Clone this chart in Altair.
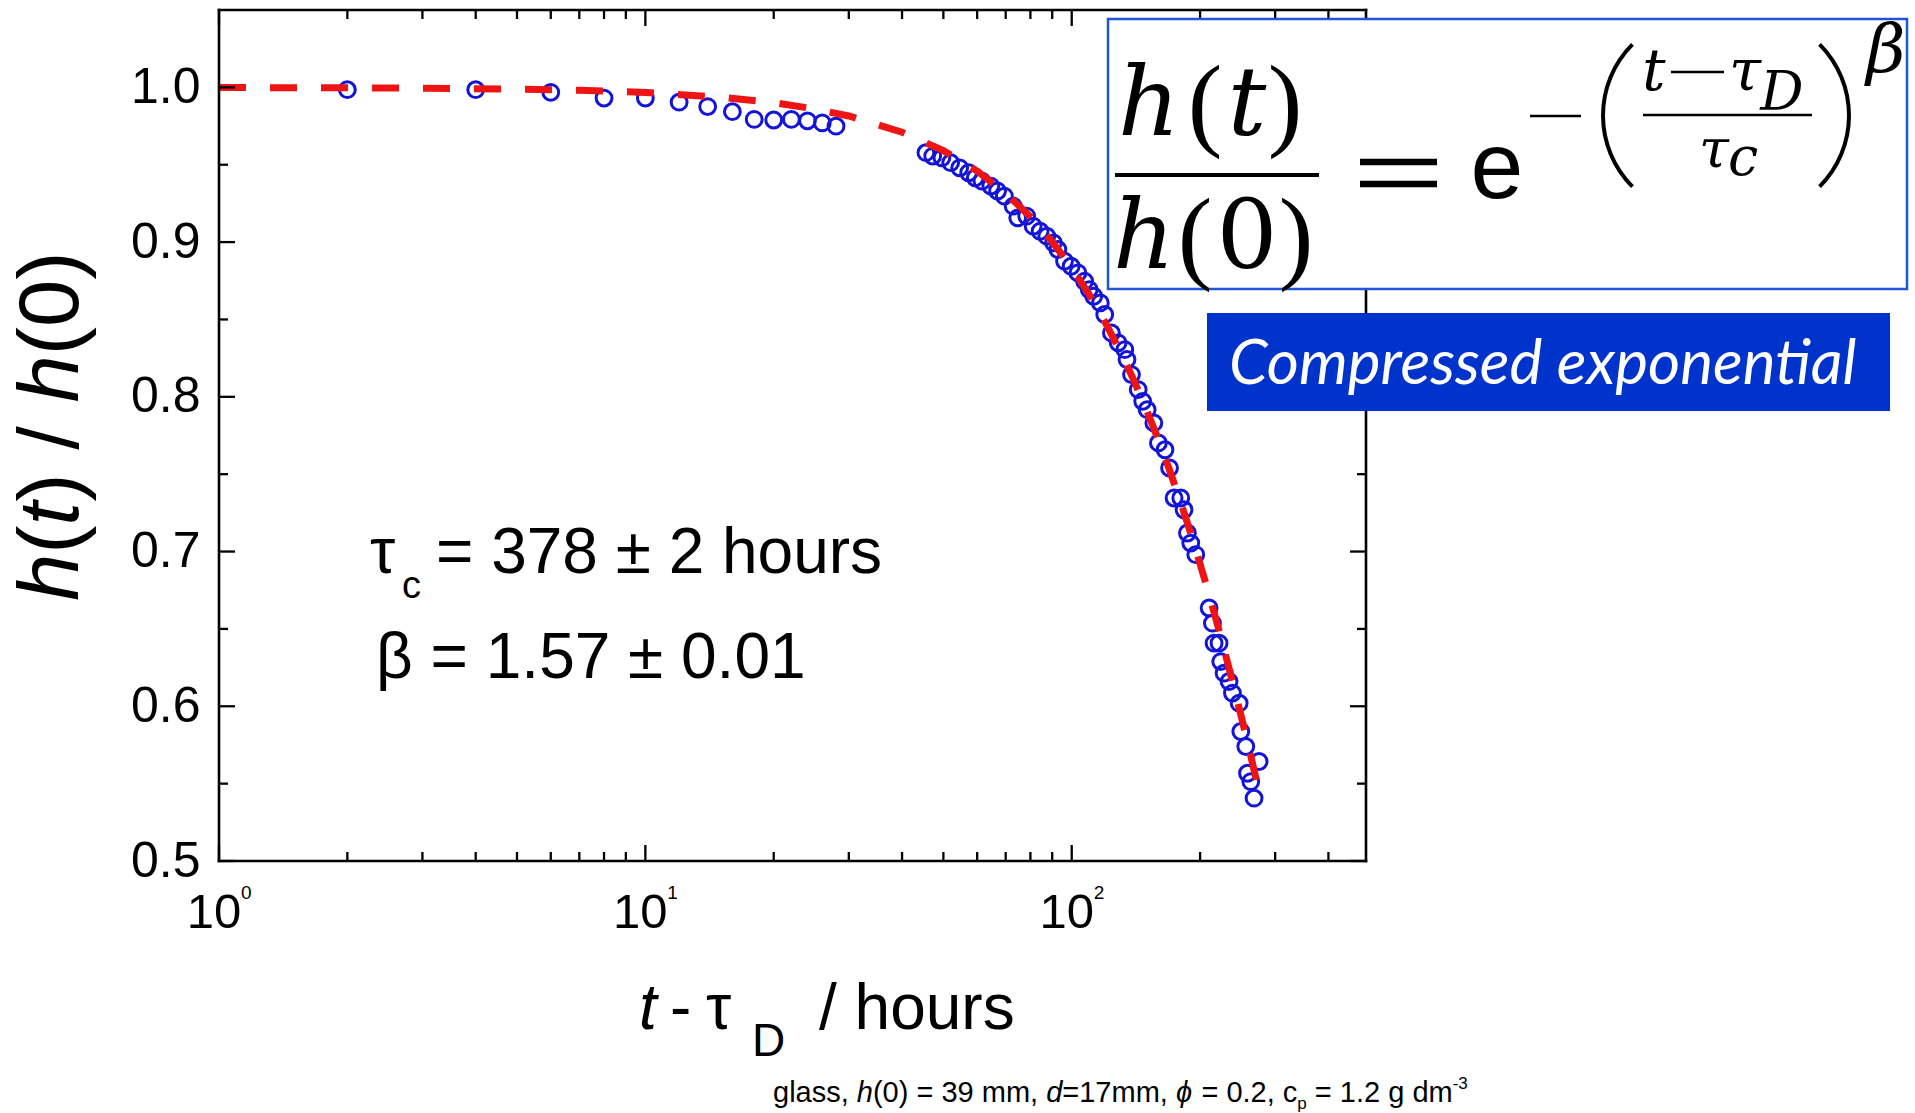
import math
import altair as alt
import pandas as pd

# ---------------- data ----------------
t_early = [2, 4, 6, 8, 10, 12, 14, 16, 18, 20, 22, 24, 26, 28]
h_early = [0.9985, 0.9985, 0.9968, 0.9931, 0.9931, 0.9904, 0.9876, 0.9843,
           0.9793, 0.9789, 0.9793, 0.9784, 0.977, 0.9749]

t_late = [45.5, 47.2, 49.6, 52.0, 54.6, 57.3, 59.4, 61.6, 64.6, 67.0, 69.5, 72.9,
          74.7, 78.4, 81.2, 84.3, 87.4, 90.6, 92.8, 96.2, 99.7, 103.4, 107.2, 109.9,
          112.6, 116.7, 119.5, 123.9, 128.5, 133.2, 134.8, 138.1, 143.2, 146.7, 150.3,
          155.8, 159.7, 165.5, 169.6,
          173.8, 180.2, 183.4, 186.8, 190.2, 195.4, 210.0, 213.8, 215.7, 221.6, 223.6,
          227.7, 233.9, 238.2, 247.0, 249.2, 256.0, 275.1, 258.4, 263.0, 267.7]
h_late = [0.9578, 0.9556, 0.9545, 0.9513, 0.948, 0.9448, 0.9416, 0.9394, 0.9362, 0.933,
          0.9297, 0.9232, 0.9157, 0.9168, 0.9103, 0.907, 0.9038, 0.8995, 0.8952, 0.8877,
          0.8844, 0.8801, 0.8747, 0.8693, 0.865, 0.8607, 0.8532, 0.8413, 0.8349, 0.8305,
          0.8241, 0.8144, 0.8047, 0.7971, 0.7917, 0.7831, 0.7702, 0.7658, 0.754,
          0.7346, 0.7346, 0.727, 0.712, 0.7055, 0.698, 0.6635, 0.6537, 0.6408, 0.6408,
          0.6289, 0.6214, 0.616, 0.6085, 0.602, 0.5837, 0.574, 0.5643, 0.5567, 0.5513,
          0.5406]

fit_t = [1, 2, 3, 5, 7, 10, 15, 20, 25, 30, 40, 50, 60, 70, 80, 90, 100, 110, 120,
         130, 140, 150, 160, 170, 180, 190, 200, 210, 220, 230, 240, 250, 260, 275]
fit_h = [0.9999, 0.9997, 0.9995, 0.9989, 0.9981, 0.9967, 0.9937, 0.9901, 0.986, 0.9815,
         0.971, 0.9591, 0.9459, 0.9316, 0.9164, 0.9002, 0.8834, 0.8659, 0.8478, 0.8293,
         0.8104, 0.7911, 0.7716, 0.7519, 0.732, 0.7121, 0.692, 0.6721, 0.6522, 0.6323,
         0.6126, 0.593, 0.5737, 0.545]

x_major_ticks = [1, 10, 100]
x_minor_ticks = [2, 3, 4, 5, 6, 7, 8, 9, 20, 30, 40, 50, 60, 70, 80, 90, 200, 300, 400]
y_major_ticks = [0.5, 0.6, 0.7, 0.8, 0.9, 1.0]
y_minor_ticks = [0.55, 0.65, 0.75, 0.85, 0.95]
x_tick_base = ["10", "10", "10"]
x_tick_exp = ["0", "1", "2"]

# ---------------- layout ----------------
W, H = 1147, 851
SANS = "Liberation Sans"
SERIF = "DejaVu Serif"
TSERIF = "Liberation Serif"
BLACK = "black"

xs = alt.Scale(type="log", domain=[1, 490], nice=False)
ys = alt.Scale(domain=[0.5, 1.05], nice=False, zero=False)
yaxis = alt.Axis(values=y_major_ticks, format=".1f", title=None, domain=False,
                 ticks=False, tickSize=0, grid=False, labelFont=SANS,
                 labelFontSize=50, labelColor=BLACK, labelPadding=19)


def X():
    return alt.X("t:Q", scale=xs, axis=None)


def Y():
    return alt.Y("h:Q", scale=ys, axis=yaxis)


one = pd.DataFrame({"k": [0]})

# Arial / Liberation Sans advance widths (1/1000 em) for layout of mixed-style text
AW = {" ": 278, ",": 278, "(": 333, ")": 333, "=": 584, ".": 278, "-": 333, "/": 278,
      "a": 556, "c": 500, "d": 556, "g": 556, "h": 556, "l": 222, "m": 833, "p": 556,
      "s": 500, "t": 278, "ϕ": 600}


def tw(s, size):
    return sum(AW.get(ch, 556) for ch in s) * size / 1000.0


def rule(x1, y1, x2, y2, sw=2.5, color=BLACK, cap="butt"):
    return alt.Chart(one).mark_rule(color=color, strokeWidth=sw, strokeCap=cap).encode(
        x=alt.value(x1), x2=alt.value(x2), y=alt.value(y1), y2=alt.value(y2))


def text(s, x, y, size, font=SANS, style="normal", align="left", angle=0,
         color=BLACK, weight="normal"):
    # leading blanks are dropped by the renderer, so turn them into an offset
    lead = len(s) - len(s.lstrip(" "))
    if lead:
        shift = tw(" " * lead, size)
        if angle == 270:
            y -= shift
        else:
            x += shift
        s = s.lstrip(" ")
    kw = dict(text=s, fontSize=size, font=font, fontStyle=style,
              align=align, baseline="alphabetic", color=color, fontWeight=weight)
    if angle:
        kw["angle"] = angle
    return alt.Chart(one).mark_text(**kw).encode(x=alt.value(x), y=alt.value(y))


def paren(side, ink_x, y_top, y_bot, bulge, thick):
    # a thin circular-arc delimiter
    c = y_bot - y_top
    R = (c * c / 4 + bulge * bulge) / (2 * bulge)
    half = math.asin((c / 2) / R)
    cy = (y_top + y_bot) / 2
    if side == "left":
        cx, mid = ink_x + R, 1.5 * math.pi
    else:
        cx, mid = ink_x - R, 0.5 * math.pi
    return alt.Chart(one).mark_arc(color=BLACK).encode(
        x=alt.value(cx), y=alt.value(cy),
        theta=alt.value(mid - half), theta2=alt.value(mid + half),
        radius=alt.value(R), radius2=alt.value(R - thick))


layers = []

# data
pts = pd.DataFrame({"t": t_early + t_late, "h": h_early + h_late})
fit = pd.DataFrame({"t": fit_t, "h": fit_h})

layers.append(alt.Chart(pts).mark_point(shape="circle", filled=False, size=250,
                                          strokeWidth=3, color="#1414d8", opacity=1)
              .encode(x=X(), y=Y()))
layers.append(alt.Chart(fit).mark_line(color="#ee1414", strokeWidth=7,
                                         strokeDash=[27, 24], strokeCap="butt")
              .encode(x=X(), y=Y()))

# ticks (inward, on all four sides)
xmaj = pd.DataFrame({"t": x_major_ticks})
xmin = pd.DataFrame({"t": x_minor_ticks})
ymaj = pd.DataFrame({"h": y_major_ticks})
ymin = pd.DataFrame({"h": y_minor_ticks})
for df, ln in ((xmaj, 16), (xmin, 9)):
    layers.append(alt.Chart(df).mark_rule(color=BLACK, strokeWidth=2.3)
                  .encode(x=X(), y=alt.value(H), y2=alt.value(H - ln)))
    layers.append(alt.Chart(df).mark_rule(color=BLACK, strokeWidth=2.3)
                  .encode(x=X(), y=alt.value(0), y2=alt.value(ln)))
for df, ln in ((ymaj, 16), (ymin, 9)):
    layers.append(alt.Chart(df).mark_rule(color=BLACK, strokeWidth=2.3)
                  .encode(y=Y(), x=alt.value(0), x2=alt.value(ln)))
    layers.append(alt.Chart(df).mark_rule(color=BLACK, strokeWidth=2.3)
                  .encode(y=Y(), x=alt.value(W), x2=alt.value(W - ln)))

# frame
layers += [rule(0, 0, W, 0, 2.6, cap="square"), rule(0, H, W, H, 2.6, cap="square"),
           rule(0, 0, 0, H, 2.6, cap="square"), rule(W, 0, W, H, 2.6, cap="square")]

# x tick labels 10^n
xl = pd.DataFrame({"t": x_major_ticks, "b": x_tick_base, "e": x_tick_exp})
layers.append(alt.Chart(xl).mark_text(fontSize=49, font=SANS, align="center",
                                        baseline="alphabetic", dx=-5, color=BLACK)
              .encode(x=X(), y=alt.value(918), text="b:N"))
layers.append(alt.Chart(xl).mark_text(fontSize=19, font=SANS, align="left",
                                        baseline="alphabetic", dx=22, color=BLACK)
              .encode(x=X(), y=alt.value(889), text="e:N"))

# x axis title: t - tau_D / hours
layers += [text("t", 420, 1019, 64, style="italic"),
           text("-", 451, 1019, 64),
           text("τ", 487, 1019, 64),
           text("D", 533, 1046, 46),
           text("/ hours", 600, 1019, 64)]

# y axis title: h(t) / h(0), rotated
ysegs = [("h", "italic"), ("(", "normal"), ("t", "italic"), (")", "normal"),
         (" / ", "normal"), ("h", "italic"), ("(0)", "normal")]
off = 0.0
for s, st in ysegs:
    layers.append(text(s, -141, 591 - off, 85, style=st, angle=270))
    off += tw(s, 85)

# fit parameters annotation
layers += [text("τ", 151, 563, 64),
           text("c", 183, 588, 38),
           text("= 378 ± 2 hours", 217, 563, 64),
           text("β = 1.57 ± 0.01", 157, 668, 64)]

# footnote
FS = 29
foot = [("glass, ", "normal", FS, 0), ("h", "italic", FS, 0),
        ("(0) = 39 mm, ", "normal", FS, 0), ("d", "italic", FS, 0),
        ("=17mm, ", "normal", FS, 0), ("ϕ", "italic", FS, 0),
        (" = 0.2, c", "normal", FS, 0), ("p", "normal", 17, 7),
        (" = 1.2 g dm", "normal", FS, 0), ("-3", "normal", 17, -13)]
fx = 554
for s, st, sz, dy in foot:
    layers.append(text(s, fx, 1092 + dy, sz, style=st))
    fx += tw(s, sz)

# formula box
layers.append(alt.Chart(one).mark_rect(fill="white", stroke="#1f55d6", strokeWidth=2.5)
              .encode(x=alt.value(889), x2=alt.value(1688), y=alt.value(9), y2=alt.value(279)))
layers += [text("h", 930, 125, 96, font=SERIF, style="italic", align="center"),
           text("(", 986, 127, 104, font=TSERIF, align="center"),
           text("t", 1028, 125, 96, font=SERIF, style="italic", align="center"),
           text(")", 1066, 127, 104, font=TSERIF, align="center"),
           rule(896, 165, 1100, 165, 4),
           text("h", 925, 258, 96, font=SERIF, style="italic", align="center"),
           text("(", 976, 260, 104, font=TSERIF, align="center"),
           text("0", 1028, 258, 96, font=SERIF, align="center"),
           text(")", 1077, 260, 104, font=TSERIF, align="center"),
           rule(1141, 152, 1218, 152, 6.5),
           rule(1141, 174, 1218, 174, 6.5),
           text("e", 1278, 188, 95, font=SANS, align="center"),
           rule(1311, 106, 1362, 106, 2.5),
           paren("left", 1382, 33, 178, 30, 4),
           paren("right", 1632, 33, 178, 30, 4),
           text("t", 1435, 80, 58, font=SERIF, style="italic", align="center"),
           rule(1452, 62, 1505, 62, 2.5),
           text("τ", 1526, 80, 58, font=SERIF, style="italic", align="center"),
           text("D", 1563, 100, 54, font=SERIF, style="italic", align="center"),
           rule(1424, 105, 1593, 105, 2.5),
           text("τ", 1495, 157, 54, font=SERIF, style="italic", align="center"),
           text("c", 1524, 165, 54, font=SERIF, style="italic", align="center"),
           text("β", 1667, 62, 68, font=SERIF, style="italic", align="center")]

# "Compressed exponential" label
layers.append(alt.Chart(one).mark_rect(fill="#0033cc")
              .encode(x=alt.value(988), x2=alt.value(1671), y=alt.value(303), y2=alt.value(401)))
layers.append(text("Compressed exponential", 1010, 374, 62, font="Lato", style="italic",
                   color="white"))

chart = alt.layer(*layers).properties(
    width=W, height=H,
    autosize=alt.AutoSizeParams(type="none"),
    padding={"left": 219, "top": 10, "right": 549, "bottom": 252},
    background="white",
).configure_view(strokeWidth=0)

chart.save("out.html", embed_options={"renderer": "svg", "actions": False})
